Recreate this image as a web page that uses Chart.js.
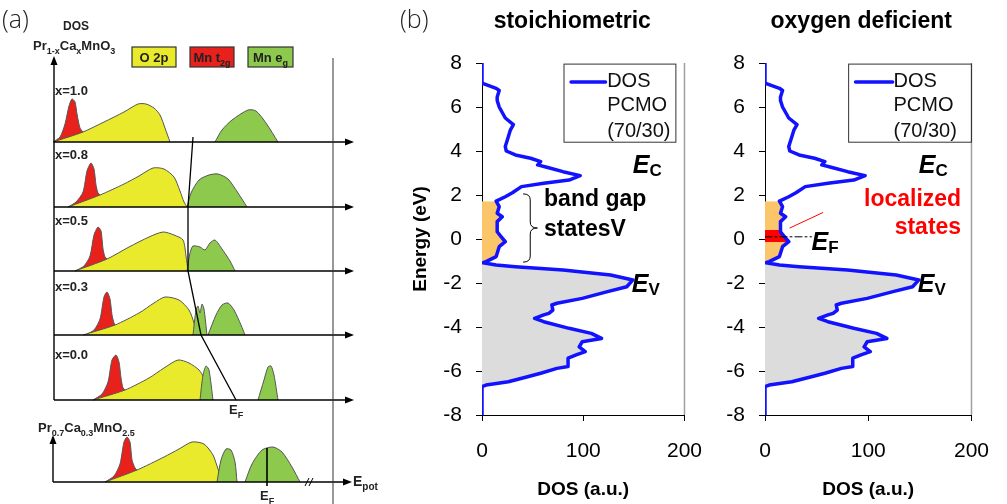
<!DOCTYPE html>
<html>
<head>
<meta charset="utf-8">
<title>PCMO density of states</title>
<script src="https://cdn.jsdelivr.net/npm/chart.js@4.4.1/dist/chart.umd.min.js"></script>
<style>
  body { margin: 0; background: #fff; }
  #wrap { position: relative; width: 1007px; height: 504px; overflow: hidden; }
  canvas { position: absolute; top: 0; }
</style>
</head>
<body>
<div id="wrap">
  <canvas id="panelA" width="395" height="504" style="left:0"></canvas>
  <canvas id="stoich" width="325" height="504" style="left:395px"></canvas>
  <canvas id="deficient" width="307" height="504" style="left:700px"></canvas>
</div>
<script>
const FONT = "'Liberation Sans', Arial, sans-serif";
const LIGHT = "'Open Sans', 'Liberation Sans', sans-serif";

// ---- panel (a): schematic bands, energy from the DOS axis, height above each row baseline ----
const rowNames = ["x=1.0", "x=0.8", "x=0.5", "x=0.3", "x=0.0", ""];
const rowBase = [362, 297, 233, 169, 104, 22];
const t2gBands = [
  [[-1,0],[6,5],[11,18],[15,36],[18,43],[21,40],[23,28],[26,14],[29,10]],
  [[14,0],[22,5],[29,15],[33,36],[37,44],[40,38],[42,22],[44,14],[46,12]],
  [[21,0],[30,5],[36,15],[40,36],[44,44],[47,40],[49,22],[51,14],[53,12]],
  [[31,0],[40,5],[46,16],[50,38],[53,43],[56,36],[58,20],[60,12],[61,10]],
  [[39,0],[48,6],[54,18],[58,40],[62,45],[65,38],[67,22],[69,12],[71,10]],
  [[51,0],[60,6],[66,18],[70,40],[73,45],[76,40],[78,22],[81,14],[83,12]]
];
const o2pBands = [
  [[-1,0],[29,10],[50,20],[70,30],[84,38],[92,38],[100,34],[106,27],[111,14],[116,0]],
  [[14,0],[46,12],[70,23],[85,31],[99,39],[110,38],[120,30],[126,16],[130,5],[133,0]],
  [[21,0],[53,12],[75,24],[95,34],[109,39],[120,36],[129,31],[132,15],[134,0]],
  [[29,0],[61,10],[85,22],[100,32],[111,38],[125,35],[135,25],[140,12],[143,0]],
  [[39,0],[71,10],[95,22],[110,32],[124,40],[135,37],[145,30],[150,22],[153,10],[156,0]],
  [[51,0],[83,12],[110,25],[125,33],[138,40],[150,38],[159,27],[164,13],[169,0]]
];
const egBands = [
  [[[161,0],[168,12],[178,22],[194,32],[202,31],[212,19],[224,0]]],
  [[[133,0],[137,14],[145,27],[155,32],[164,33],[174,28],[184,14],[193,0]]],
  [[[133,0],[136,18],[139,25],[146,24],[151,21],[156,28],[161,31],[168,22],[176,10],[181,0]]],
  [[[139,0],[142,25],[144,29],[146,22],[148,31],[150,26],[153,0]],
   [[154,0],[162,20],[168,30],[174,32],[180,25],[187,10],[191,0]]],
  [[[146,0],[149,25],[152,34],[155,30],[159,0]],
   [[204,0],[210,20],[214,33],[217,34],[220,25],[224,0]]],
  [[[163,0],[167,22],[172,33],[177,32],[181,20],[183,0]],
   [[191,0],[198,18],[208,32],[219,35],[228,30],[238,15],[246,0]]]
];
const fermiTraceE = [139, 134, 134, 147, 182];
const fermiTraceY = [367, 297, 233, 169, 104];
const fermiDeficientE = 213;

// ---- panel (b): DOS of PCMO (70/30) ----
const dosEnergy = [8, 7.08, 6.98, 6.85, 6.75, 6.45, 6.3, 6.0, 5.5, 5.2, 4.95, 4.65, 4.2, 4.0, 3.82, 3.67,
  3.52, 3.37, 3.26, 3.06, 2.88, 2.68, 2.53, 2.38, 2.1, 1.92, 1.72, 1.47, 1.17, 1.01, 0.79, 0.33, 0.1,
  -0.12, -0.35, -0.8, -1.03, -1.08, -1.18, -1.26, -1.41, -1.64, -1.86, -2.17, -2.39, -2.7, -2.92, -3.0,
  -3.23, -3.38, -3.45, -3.61, -3.76, -4.06, -4.29, -4.52, -4.67, -4.9, -5.12, -5.27, -5.42, -5.8, -5.88,
  -6.1, -6.26, -6.49, -6.64, -6.71, -8];
const dosValue = [0, 0, 6, 14, 17, 15, 15, 17, 23, 31, 28, 26, 23, 24, 33, 48,
  58, 55, 64, 80, 97, 86, 61, 39, 30, 23, 14, 17, 15, 20, 15, 15, 19,
  23, 17, 14, 4, 1, 14, 33, 80, 127, 149, 143, 124, 99, 74, 69,
  70, 66, 61, 52, 61, 86, 108, 118, 99, 96, 102, 93, 85, 85, 74,
  58, 45, 26, 4, 0, 0];
const localizedE = [0.41, 0.33, 0.1, -0.12, -0.14];
const localizedDos = [15, 15, 18, 21, 20];
const fermiLevel = 0.1;

const YELLOW = '#eaea2c', RED = '#e8211d', GREEN = '#8cc94c', EDGE = '#555';

function rich(ctx, x, y, parts, size, align) {
  const fonts = parts.map(p => p[1] ? 'bold ' + Math.round(size * 0.68) + 'px ' + FONT : 'bold ' + size + 'px ' + FONT);
  let w = 0;
  parts.forEach((p, i) => { ctx.font = fonts[i]; w += ctx.measureText(p[0]).width; });
  let cx = align === 'center' ? x - w / 2 : x;
  ctx.textAlign = 'left';
  ctx.textBaseline = 'alphabetic';
  parts.forEach((p, i) => {
    ctx.font = fonts[i];
    ctx.fillText(p[0], cx, p[1] ? y + size * 0.3 : y);
    cx += ctx.measureText(p[0]).width;
  });
}

function seg(ctx, x1, y1, x2, y2) {
  ctx.beginPath(); ctx.moveTo(x1, y1); ctx.lineTo(x2, y2); ctx.stroke();
}
function arrow(ctx, x, y, dir) {
  ctx.beginPath();
  if (dir === 'up') { ctx.moveTo(x, y - 2); ctx.lineTo(x - 3.5, y + 7); ctx.lineTo(x + 3.5, y + 7); }
  else { ctx.moveTo(x + 2, y); ctx.lineTo(x - 7, y - 3.5); ctx.lineTo(x - 7, y + 3.5); }
  ctx.closePath(); ctx.fill();
}

const toPts = (curve, base) => curve.map(([e, h]) => ({x: e, y: base + h}));
const schematicSets = [];
rowBase.forEach((base, r) => {
  schematicSets.push({data: toPts(t2gBands[r], base), backgroundColor: RED, borderColor: EDGE, borderWidth: 1, fill: {value: base}, order: 3});
  schematicSets.push({data: toPts(o2pBands[r], base), backgroundColor: YELLOW, borderColor: EDGE, borderWidth: 1, fill: {value: base}, order: 2});
  egBands[r].forEach(b => schematicSets.push({data: toPts(b, base), backgroundColor: GREEN, borderColor: EDGE, borderWidth: 1, fill: {value: base}, order: 1}));
});
schematicSets.push({data: fermiTraceE.map((e, i) => ({x: e, y: fermiTraceY[i]})), borderColor: '#000', borderWidth: 1.3, fill: false, tension: 0, order: 0});
schematicSets.push({data: [{x: fermiDeficientE, y: rowBase[5] - 4}, {x: fermiDeficientE, y: rowBase[5] + 34}], borderColor: '#000', borderWidth: 1.6, fill: false, tension: 0, order: 0});

const schematicDecor = {
  id: 'schematicDecor',
  afterDatasetsDraw(chart) {
    const {ctx, scales: {x, y}} = chart;
    const X = v => x.getPixelForValue(v), Y = v => y.getPixelForValue(v);
    ctx.save();
    ctx.strokeStyle = '#000'; ctx.fillStyle = '#000'; ctx.lineWidth = 1.4;
    seg(ctx, X(0), Y(rowBase[4]), X(0), Y(446)); arrow(ctx, X(0), Y(446), 'up');
    rowBase.slice(0, 5).forEach(b => { seg(ctx, X(0), Y(b), X(296), Y(b)); arrow(ctx, X(298), Y(b), 'right'); });
    seg(ctx, X(-1), Y(22), X(-1), Y(67)); arrow(ctx, X(-1), Y(67), 'up');
    seg(ctx, X(-1), Y(22), X(294), Y(22)); arrow(ctx, X(296), Y(22), 'right');
    ctx.lineWidth = 1;
    [253, 257].forEach(e => seg(ctx, X(e - 2), Y(18), X(e + 2), Y(26)));
    ctx.strokeStyle = '#333';
    seg(ctx, X(279), Y(446), X(279), Y(0));

    // legend boxes
    const boxes = [
      {parts: [['O 2p', 0]], e0: 78, e1: 122, color: YELLOW},
      {parts: [['Mn t', 0], ['2g', 1]], e0: 136, e1: 180, color: RED},
      {parts: [['Mn e', 0], ['g', 1]], e0: 194, e1: 239, color: GREEN}
    ];
    boxes.forEach(b => {
      ctx.fillStyle = b.color; ctx.strokeStyle = '#333'; ctx.lineWidth = 1.2;
      ctx.fillRect(X(b.e0), Y(457), X(b.e1) - X(b.e0), Y(437) - Y(457));
      ctx.strokeRect(X(b.e0), Y(457), X(b.e1) - X(b.e0), Y(437) - Y(457));
      ctx.fillStyle = '#222';
      rich(ctx, (X(b.e0) + X(b.e1)) / 2, Y(442), b.parts, 13, 'center');
    });

    ctx.fillStyle = '#222';
    rich(ctx, X(9), Y(474), [['DOS', 0]], 12);
    rich(ctx, X(-21), Y(454), [['Pr', 0], ['1-x', 1], ['Ca', 0], ['x', 1], ['MnO', 0], ['3', 1]], 13);
    const rowTextY = [409, 345, 279, 213, 145];
    rowTextY.forEach((v, i) => rich(ctx, X(1), Y(v), [[rowNames[i], 0]], 13));
    rich(ctx, X(-16), Y(72), [['Pr', 0], ['0.7', 1], ['Ca', 0], ['0.3', 1], ['MnO', 0], ['2.5', 1]], 13);
    rich(ctx, X(175), Y(90), [['E', 0], ['F', 1]], 13);
    rich(ctx, X(206), Y(4), [['E', 0], ['F', 1]], 13);
    rich(ctx, X(299), Y(18), [['E', 0], ['pot', 1]], 14);

    ctx.font = '300 25px ' + LIGHT; ctx.fillStyle = '#222';
    ctx.textAlign = 'left'; ctx.textBaseline = 'alphabetic';
    ctx.fillText('(a)', 2, 28);
    ctx.restore();
  }
};

new Chart(document.getElementById('panelA'), {
  type: 'line',
  data: {datasets: schematicSets},
  options: {
    responsive: false, animation: false,
    layout: {padding: 0},
    elements: {point: {radius: 0}, line: {tension: 0.25}},
    plugins: {legend: {display: false}, tooltip: {enabled: false}},
    scales: {
      x: {type: 'linear', display: false, min: -54, max: 341},
      y: {type: 'linear', display: false, min: 0, max: 504}
    }
  },
  plugins: [schematicDecor]
});

function dosPoints(lo, hi) {
  const pts = [];
  dosEnergy.forEach((e, i) => { if (e >= lo && e <= hi) pts.push({x: dosValue[i], y: e}); });
  return pts;
}

function subLabel(ctx, x, y, main, sub) {
  ctx.textAlign = 'left'; ctx.textBaseline = 'alphabetic';
  ctx.font = 'italic bold 25px ' + FONT;
  ctx.fillText(main, x, y);
  const w = ctx.measureText(main).width;
  ctx.font = 'bold 17px ' + FONT;
  ctx.fillText(sub, x + w, y + 3);
}

function dosDecor(cfg) {
  return {
    id: 'dosDecor',
    afterDatasetsDraw(chart) {
      const {ctx, chartArea: a, scales: {x, y}} = chart;
      const X = v => x.getPixelForValue(v), Y = v => y.getPixelForValue(v);
      ctx.save();
      ctx.strokeStyle = '#a0a0a0'; ctx.lineWidth = 1.5;
      seg(ctx, a.right, a.top, a.right, a.bottom);

      // legend box
      const lg = cfg.legend;
      ctx.strokeStyle = '#333'; ctx.lineWidth = 1;
      ctx.strokeRect(X(81), Y(7.95), X(lg.right) - X(81), Y(4.4) - Y(7.95));
      ctx.strokeStyle = '#1212ff'; ctx.lineWidth = 3.5; ctx.lineCap = 'round';
      seg(ctx, X(lg.line0), Y(7.14), X(lg.line1), Y(7.14));
      ctx.fillStyle = '#111'; ctx.font = '20px ' + FONT;
      ctx.textAlign = 'left'; ctx.textBaseline = 'middle';
      ctx.fillText('DOS', X(lg.text), Y(7.14));
      ctx.fillText('PCMO', X(lg.text), Y(6.05));
      ctx.fillText('(70/30)', X(lg.text), Y(4.9));

      ctx.fillStyle = '#000';
      subLabel(ctx, X(149), Y(3.0), 'E', 'C');
      subLabel(ctx, X(148), Y(-2.41), 'E', 'V');
      if (cfg.fermiLabel) subLabel(ctx, X(45), Y(-0.5), 'E', 'F');

      ctx.textBaseline = 'middle';
      ctx.font = 'bold 23px ' + FONT;
      if (cfg.gapText) {
        ctx.textAlign = 'left';
        ctx.fillText('band gap', X(61.3), Y(1.77));
        ctx.fillText('statesV', X(61.3), Y(0.41));
        // brace
        const x0 = X(40.6), x1 = X(54.7), xm = (x0 + x1) / 2;
        const t = Y(2.05), b = Y(-1.05), m = Y(0.5), r = 6;
        ctx.strokeStyle = '#000'; ctx.lineWidth = 1; ctx.lineCap = 'butt';
        ctx.beginPath();
        ctx.moveTo(x0, t);
        ctx.quadraticCurveTo(xm, t, xm, t + r);
        ctx.lineTo(xm, m - r);
        ctx.quadraticCurveTo(xm, m, x1, m);
        ctx.quadraticCurveTo(xm, m, xm, m + r);
        ctx.lineTo(xm, b - r);
        ctx.quadraticCurveTo(xm, b, x0, b);
        ctx.stroke();
      }
      if (cfg.localText) {
        ctx.fillStyle = '#ff0000'; ctx.textAlign = 'right';
        ctx.fillText('localized', X(190), Y(1.77));
        ctx.fillText('states', X(190), Y(0.5));
      }

      ctx.fillStyle = '#000'; ctx.textAlign = 'center'; ctx.textBaseline = 'alphabetic';
      ctx.font = 'bold 23px ' + FONT;
      ctx.fillText(cfg.title, (a.left + a.right) / 2 + cfg.titleShift, 28);
      if (cfg.panelLabel) {
        ctx.font = '300 25px ' + LIGHT; ctx.fillStyle = '#222'; ctx.textAlign = 'left';
        ctx.fillText(cfg.panelLabel, 5, 28);
      }
      ctx.restore();
    }
  };
}

function dosChart(id, cfg) {
  const clear = 'rgba(0,0,0,0)';
  const sets = [
    {data: dosPoints(-6.75, -1.07), backgroundColor: '#dcdcdc', borderColor: clear, fill: 'origin', order: 5},
    {data: dosPoints(-1.09, 1.75), backgroundColor: '#fbc56a', borderColor: clear, fill: 'origin', order: 4},
    ...cfg.extra,
    {data: dosPoints(-9, 9), borderColor: '#1212ff', borderWidth: 3.5, fill: false, order: 1}
  ];
  const tickFont = {family: FONT, size: 21};
  const titleFont = {family: FONT, size: 19, weight: 'bold'};
  return new Chart(document.getElementById(id), {
    type: 'line',
    data: {datasets: sets},
    options: {
      indexAxis: 'y', responsive: false, animation: false,
      layout: {padding: {top: 63, right: cfg.padRight, bottom: 0, left: 0}},
      elements: {point: {radius: 0}, line: {tension: 0, borderJoinStyle: 'round', borderCapStyle: 'round'}},
      plugins: {legend: {display: false}, tooltip: {enabled: false}},
      scales: {
        x: {
          type: 'linear', min: 0, max: 200,
          ticks: {stepSize: 100, padding: 18, color: '#000', font: tickFont, maxRotation: 0},
          grid: {drawOnChartArea: false, tickLength: 6, color: '#000'},
          border: {color: '#000', width: 1},
          title: {display: true, text: 'DOS (a.u.)', color: '#000', font: titleFont, padding: {top: 0, bottom: 3}},
          afterFit: s => { s.height = 89; }
        },
        y: {
          type: 'linear', min: -8, max: 8,
          ticks: {stepSize: 2, padding: 14, color: '#000', font: tickFont},
          grid: {drawOnChartArea: false, tickLength: 6, color: '#000'},
          border: {color: '#000', width: 1},
          title: {display: cfg.yTitle, text: 'Energy (eV)', color: '#000', font: titleFont, padding: {top: 14, bottom: 0}},
          afterFit: s => { s.width = cfg.axisWidth; }
        }
      }
    },
    plugins: [dosDecor(cfg)]
  });
}

dosChart('stoich', {
  axisWidth: 87, padRight: 26, yTitle: true, title: 'stoichiometric', titleShift: -11, panelLabel: '(b)',
  legend: {right: 191.5, line0: 88, line1: 122, text: 123.6},
  gapText: true, extra: []
});

dosChart('deficient', {
  axisWidth: 65, padRight: 30, yTitle: false, title: 'oxygen deficient', titleShift: -7,
  legend: {right: 200, line0: 87.7, line1: 123.6, text: 124.5},
  fermiLabel: true, localText: true,
  extra: [
    {data: localizedE.map((e, i) => ({x: localizedDos[i], y: e})), backgroundColor: '#ff0000', borderColor: 'rgba(0,0,0,0)', fill: 'origin', order: 3},
    {data: [{x: 0, y: fermiLevel}, {x: 45, y: fermiLevel}], borderColor: '#000', borderWidth: 1, borderDash: [7, 3, 2, 3], fill: false, order: 0},
    {data: [{x: 24, y: 0.5}, {x: 56, y: 1.2}], borderColor: '#ff0000', borderWidth: 1, fill: false, order: 0}
  ]
});
</script>
</body>
</html>
